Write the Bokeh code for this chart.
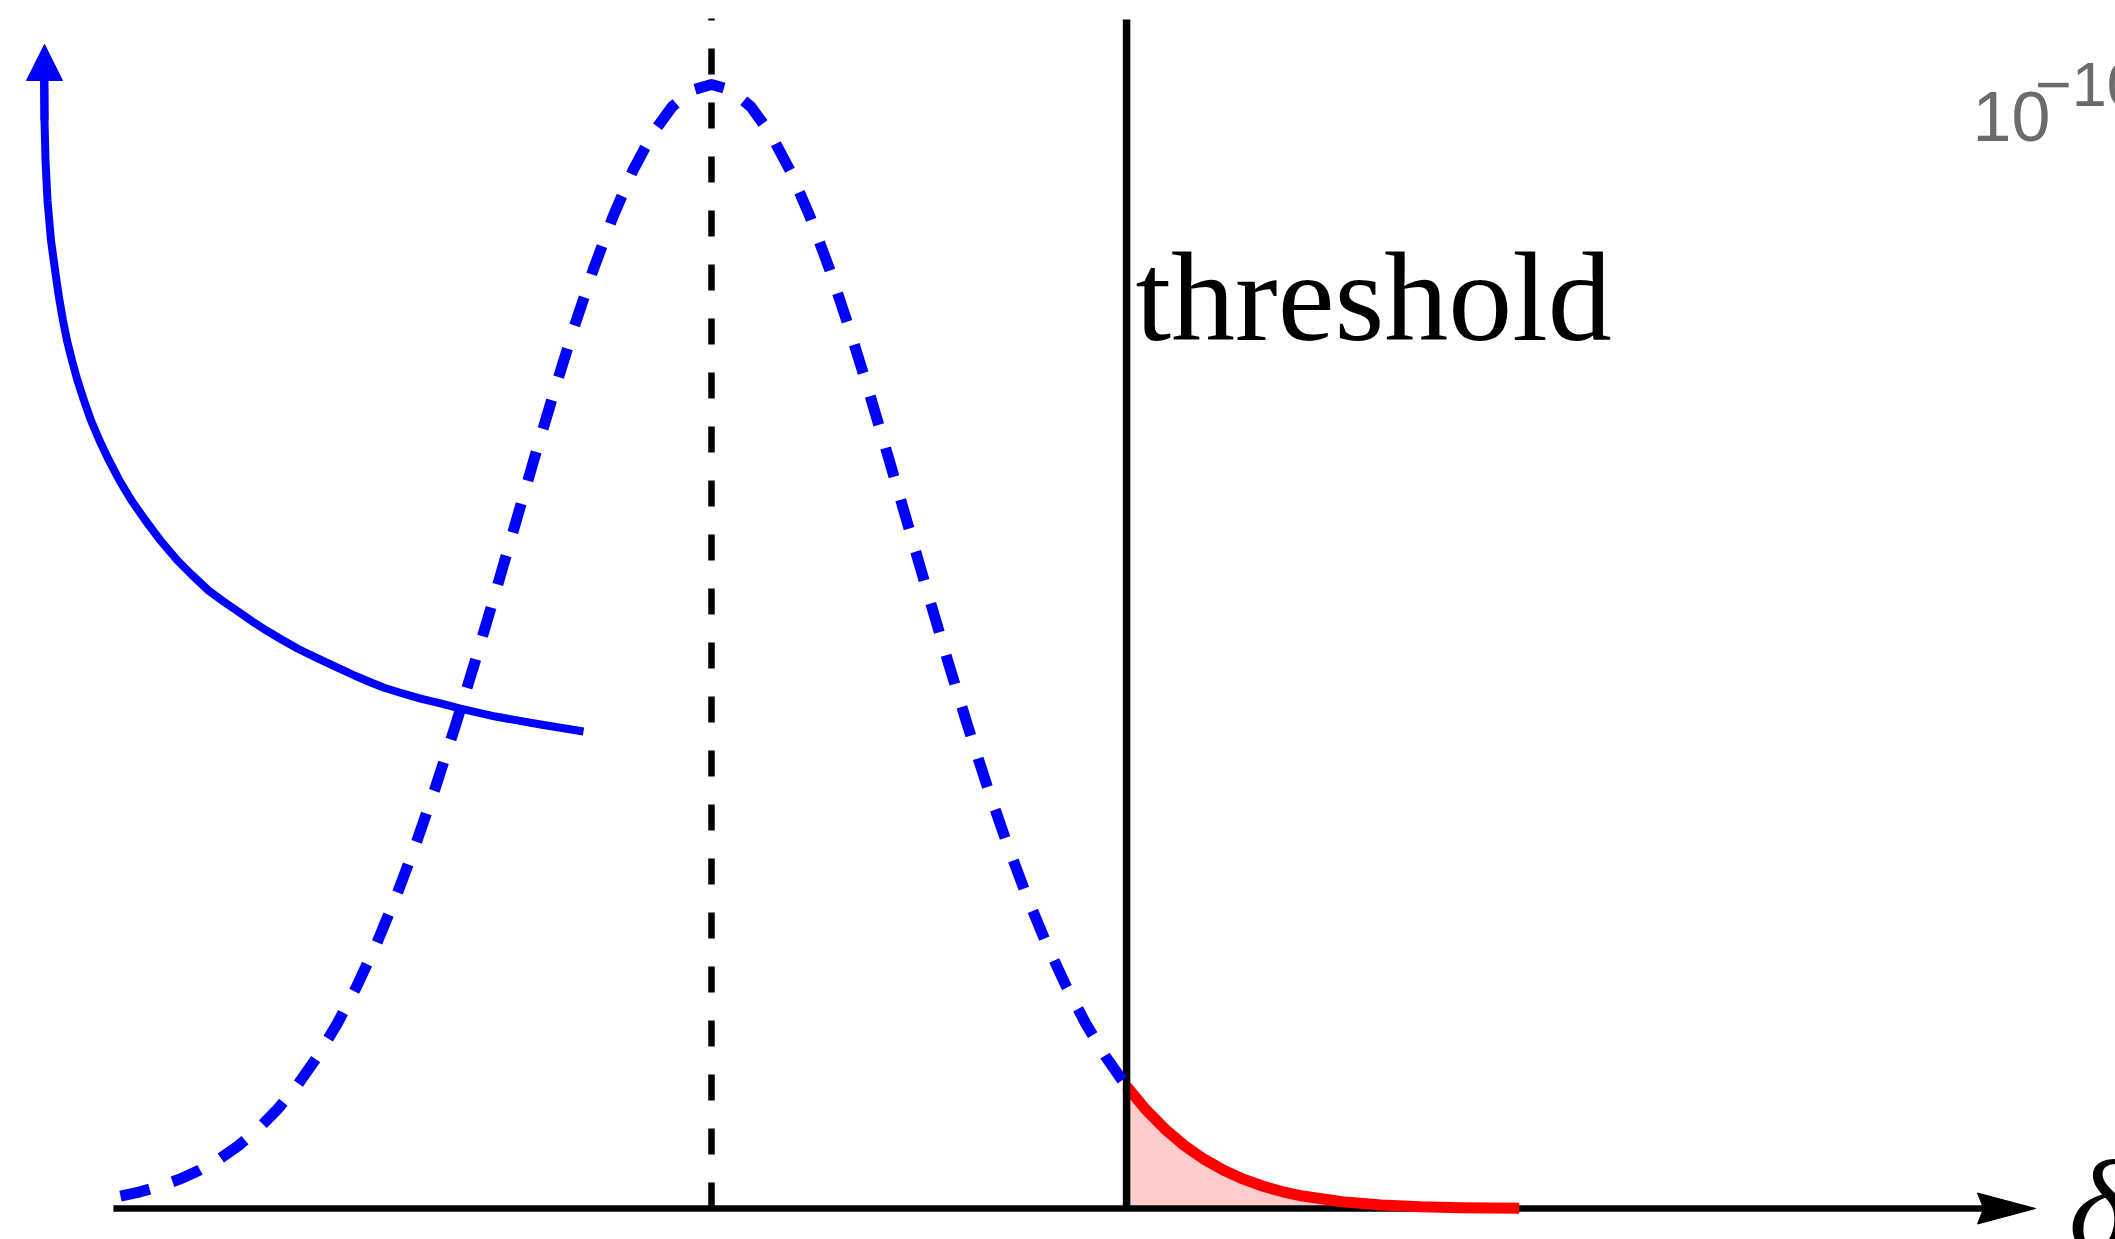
from bokeh.plotting import figure
from bokeh.models import Range1d, Label, Arrow, NormalHead
from bokeh.embed import file_html
from bokeh.resources import INLINE

# ---------------- data ----------------
# dashed blue bell curve, left of the threshold
gauss_x = [-3.0, -2.9, -2.8, -2.7, -2.6, -2.5, -2.4, -2.3, -2.2, -2.1,
           -2.0, -1.9, -1.8, -1.7, -1.6, -1.5, -1.4, -1.3, -1.2, -1.1,
           -1.0, -0.9, -0.8, -0.7, -0.6, -0.5, -0.4, -0.3, -0.2, -0.1,
           0.0, 0.1, 0.2, 0.3, 0.4, 0.5, 0.6, 0.7, 0.8, 0.9,
           1.0, 1.1, 1.2, 1.3, 1.4, 1.5, 1.6, 1.7, 1.8, 1.9,
           2.0, 2.1, 2.107]
gauss_y = [0.0111, 0.0149, 0.0198, 0.0261, 0.0340, 0.0439, 0.0561, 0.0710, 0.0889, 0.1103,
           0.1353, 0.1645, 0.1979, 0.2357, 0.2780, 0.3247, 0.3753, 0.4296, 0.4868, 0.5461,
           0.6065, 0.6670, 0.7261, 0.7827, 0.8353, 0.8825, 0.9231, 0.9560, 0.9802, 0.9950,
           1.0000, 0.9950, 0.9802, 0.9560, 0.9231, 0.8825, 0.8353, 0.7827, 0.7261, 0.6670,
           0.6065, 0.5461, 0.4868, 0.4296, 0.3753, 0.3247, 0.2780, 0.2357, 0.1979, 0.1645,
           0.1353, 0.1103, 0.1087]

# red tail beyond the threshold
tail_x = [2.107, 2.2, 2.3, 2.4, 2.5, 2.6, 2.7, 2.8, 2.9, 3.0, 3.2, 3.4, 3.6, 3.8, 4.1]
tail_y = [0.1087, 0.0889, 0.0710, 0.0561, 0.0439, 0.0340, 0.0261, 0.0198, 0.0149, 0.0111,
          0.0060, 0.0031, 0.0015, 0.0007, 0.0002]

# solid blue curve ending in an arrow at the top left
curve_x = [-3.3883, -3.3858, -3.3807, -3.3706, -3.3528, -3.3249, -3.3096, -3.2918,
           -3.2716, -3.2462, -3.2183, -3.1853, -3.1497, -3.1066, -3.0584, -3.0051,
           -2.9442, -2.8731, -2.7970, -2.7107, -2.6345, -2.5533, -2.4772, -2.3959,
           -2.3299, -2.2589, -2.1827, -2.1015, -2.0406, -1.9746, -1.8985, -1.8122,
           -1.7411, -1.6650, -1.5838, -1.4772, -1.3756, -1.2741, -1.0964, -0.8680, -0.6497]
curve_y = [1.0044, 0.9680, 0.9324, 0.8968, 0.8612, 0.8256, 0.8078, 0.7900,
           0.7722, 0.7544, 0.7367, 0.7189, 0.7011, 0.6833, 0.6655, 0.6477,
           0.6299, 0.6121, 0.5943, 0.5765, 0.5632, 0.5498, 0.5400, 0.5302,
           0.5222, 0.5142, 0.5062, 0.4982, 0.4929, 0.4875, 0.4813, 0.4742,
           0.4689, 0.4635, 0.4591, 0.4537, 0.4493, 0.4448, 0.4377, 0.4306, 0.4244]
curve_tip = (-3.3858, 1.0356)

mean_x = 0.0
mean_top = 1.0587
threshold_x = 2.107
threshold_top = 1.0578
axis_start = -3.036
axis_end = 6.721

threshold_label = "threshold"
axis_label = "δ"
corner_base = "10"
corner_exp = "\u221210"

# ---------------- figure ----------------
W, H = 2115, 1239
X0, X1 = -3.60914, 7.12690
Y0, Y1 = -0.027580, 1.074733
px_x = W / (X1 - X0)
px_y = H / (Y1 - Y0)

p = figure(width=W, height=H, x_range=Range1d(X0, X1), y_range=Range1d(Y0, Y1),
           output_backend="svg", toolbar_location=None,
           x_axis_location=None, y_axis_location=None, min_border=0,
           outline_line_color=None, background_fill_color="white",
           border_fill_color="white")
p.xgrid.visible = False
p.ygrid.visible = False

BLUE = "#0000ff"
RED = "#ff0000"

# pink area under the tail
p.varea(x=tail_x, y1=[0] * len(tail_x), y2=tail_y, fill_color="#ffcccc", fill_alpha=1.0)

# x axis line with arrow head
head_len = 58 / px_x
head_hw = 15.5 / px_y
notch = 6 / px_x
p.line([axis_start, axis_end - head_len + notch], [0, 0], line_color="black", line_width=6.5)
p.patch([axis_end, axis_end - head_len, axis_end - head_len + notch, axis_end - head_len],
        [0, head_hw, 0, -head_hw], fill_color="black", line_color="black", line_width=1)

# red tail
p.line(tail_x, tail_y, line_color=RED, line_width=11, line_join="round")

# threshold line and mean line
p.line([threshold_x, threshold_x], [0, threshold_top], line_color="black", line_width=7.5)
p.line([mean_x, mean_x], [0, mean_top], line_color="black", line_width=6.5, line_dash="26 28")

# dashed bell curve
p.line(gauss_x, gauss_y, line_color=BLUE, line_width=11, line_dash="30 24", line_join="round")

# solid blue curve
p.line(curve_x, curve_y, line_color=BLUE, line_width=8, line_join="round")
p.add_layout(Arrow(end=NormalHead(size=36, fill_color=BLUE, line_color=BLUE, line_width=1),
                   x_start=curve_x[1], y_start=curve_y[1],
                   x_end=curve_tip[0], y_end=curve_tip[1],
                   line_color=BLUE, line_width=8))

# texts (labels are drawn ~0.34 em below the anchor, so lift them by that)
def lift(fs):
    return 0.34 * fs / px_y

p.add_layout(Label(x=2.152, y=0.7722 + lift(128), text=threshold_label, text_font="Liberation Serif",
                   text_font_size="128px", text_color="black",
                   text_align="left", text_baseline="alphabetic"))
p.add_layout(Label(x=6.89, y=-0.037 + lift(130), text=axis_label, text_font="Liberation Serif",
                   text_font_style="italic", text_font_size="130px", text_color="black",
                   text_align="left", text_baseline="alphabetic"))
p.add_layout(Label(x=6.401, y=0.9502 + lift(70), text=corner_base, text_font="Liberation Sans",
                   text_font_size="70px", text_color="#6b6b6b",
                   text_align="left", text_baseline="alphabetic"))
p.add_layout(Label(x=6.718, y=0.9805 + lift(63), text=corner_exp, text_font="Liberation Sans",
                   text_font_size="63px", text_color="#6b6b6b",
                   text_align="left", text_baseline="alphabetic"))

open("out.html", "w").write(file_html(p, INLINE))
